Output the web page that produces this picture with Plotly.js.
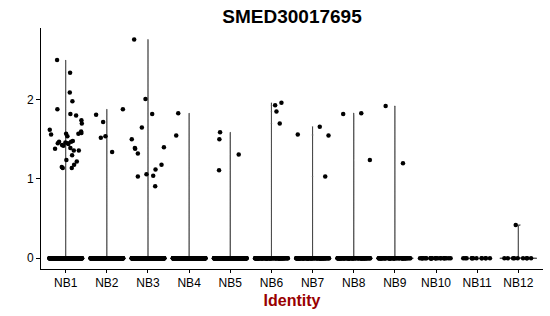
<!DOCTYPE html>
<html>
<head>
<meta charset="utf-8">
<script src="https://cdn.plot.ly/plotly-3.0.1.min.js"></script>
<style>html,body{margin:0;padding:0;background:#fff;}#chart{width:550px;height:316px;}</style>
</head>
<body>
<div id="chart"></div>
<script>
// Cluster identities (x categories)
const categories = ["NB1","NB2","NB3","NB4","NB5","NB6","NB7","NB8","NB9","NB10","NB11","NB12"];
// Number of cells with zero expression in each cluster (estimated)
const zeroCounts = [300, 260, 260, 240, 220, 90, 90, 80, 60, 26, 12, 9];
// Non-zero expression values: cluster index, expression value, horizontal jitter
const ptCluster = [
  0,0,0,0,0,0,0,0,0,0,0,0,0,0,0,0,0,0,0,0,0,0,0,0,0,0,0,0,0,0,0,0,0,0,0,0,
  1,1,1,1,1,1,
  2,2,2,2,2,2,2,2,2,2,2,2,2,2,2,
  3,3,
  4,4,4,4,
  5,5,5,5,
  6,6,6,6,
  7,7,7,
  8,8,
  11
];
const ptValue = [
  1.62,1.56,1.38,2.50,1.88,1.45,1.47,1.15,1.14,1.43,1.42,1.46,1.57,1.24,1.54,1.45,1.44,2.34,2.09,1.82,1.39,1.47,1.14,1.30,1.98,1.48,1.36,1.18,1.80,1.22,1.57,1.36,1.74,1.70,1.60,1.58,
  1.81,1.72,1.52,1.54,1.34,1.88,
  2.76,1.50,1.39,1.38,1.32,1.03,1.65,2.01,1.06,1.82,1.04,1.12,0.91,1.18,1.40,
  1.83,1.55,
  1.59,1.50,1.11,1.31,
  1.93,1.96,1.85,1.70,
  1.56,1.66,1.55,1.03,
  1.82,1.83,1.24,
  1.92,1.20,
  0.42
];
const ptJitter = [
  -0.387,-0.355,-0.258,-0.209,-0.202,-0.192,-0.161,-0.095,-0.071,-0.088,-0.056,-0.007,0.010,0.017,0.041,0.051,0.066,0.107,0.100,0.114,0.114,0.131,0.148,0.156,0.163,0.173,0.197,0.205,0.253,0.270,0.309,0.319,0.382,0.392,0.375,0.382,
  -0.261,-0.090,-0.146,-0.034,0.129,0.390,
  -0.336,-0.394,-0.319,-0.312,-0.246,-0.246,-0.149,-0.061,-0.037,0.102,0.127,0.183,0.175,0.329,0.387,
  -0.265,-0.314,
  -0.248,-0.265,-0.273,0.205,
  0.090,0.243,0.122,0.202,
  -0.360,0.175,0.387,0.307,
  -0.256,0.183,0.392,
  -0.224,0.197,
  -0.063
];
const yTicks = [0, 1, 2];

const FONT = "Liberation Sans, Arial, Helvetica, sans-serif";
const traces = [];

categories.forEach((cat, i) => {
  const zeros = new Array(zeroCounts[i]).fill(0);
  const nz = ptValue.filter((v, k) => ptCluster[k] === i);
  const all = zeros.concat(nz);
  // violin outline (very narrow bandwidth, like Seurat's VlnPlot)
  if (nz.length > 0) {
    traces.push({
      type: "violin", x0: i, y: all, name: cat,
      bandwidth: 0.004, spanmode: "hard", scalemode: "width", width: 0.9,
      points: false, box: {visible: false}, meanline: {visible: false},
      line: {color: "#000", width: 0.6}, fillcolor: "rgba(0,0,0,0)",
      hoverinfo: "skip", showlegend: false
    });
  }
  // jittered zero points
  traces.push({
    type: "box", x0: i, y: zeros, name: cat,
    boxpoints: "all", jitter: 1, pointpos: 0, width: 0.8,
    line: {width: 0, color: "rgba(0,0,0,0)"}, fillcolor: "rgba(0,0,0,0)",
    marker: {color: "#000", size: 4.5, line: {width: 0}},
    hoverinfo: "skip", showlegend: false
  });
});

// non-zero jittered points
traces.push({
  type: "scatter", mode: "markers",
  x: ptCluster.map((c, k) => c + ptJitter[k]),
  y: ptValue,
  marker: {color: "#000", size: 4.5},
  hoverinfo: "skip", showlegend: false
});

const layout = {
  width: 550, height: 316,
  margin: {l: 41, r: 7, t: 28, b: 47},
  paper_bgcolor: "#fff", plot_bgcolor: "#fff",
  font: {family: FONT, color: "#000", size: 12},
  showlegend: false,
  boxmode: "overlay", violinmode: "overlay",
  title: {
    text: "<b>SMED30017695</b>",
    font: {family: FONT, size: 19, color: "#000"},
    x: 0.5, xref: "paper", xanchor: "center",
    y: 1 - 16/316, yref: "container", yanchor: "middle"
  },
  xaxis: {
    type: "linear", range: [-0.6, 11.6],
    tickvals: categories.map((c, i) => i), ticktext: categories,
    showgrid: false, zeroline: false,
    showline: true, linecolor: "#000", linewidth: 1,
    ticks: "outside", ticklen: 3, tickcolor: "#000", tickwidth: 1,
    tickfont: {family: FONT, size: 12, color: "#000"},
    title: {text: "<b>Identity</b>", font: {family: FONT, size: 16, color: "#990000"}, standoff: 5}
  },
  yaxis: {
    range: [-0.135, 2.904],
    tickvals: yTicks, ticktext: yTicks.map(String),
    showgrid: false, zeroline: false,
    showline: true, linecolor: "#000", linewidth: 1,
    ticks: "outside", ticklen: 4, tickcolor: "#000", tickwidth: 1,
    tickfont: {family: FONT, size: 12, color: "#000"}
  }
};

Plotly.newPlot("chart", traces, layout, {displayModeBar: false, staticPlot: true});
</script>
</body>
</html>
